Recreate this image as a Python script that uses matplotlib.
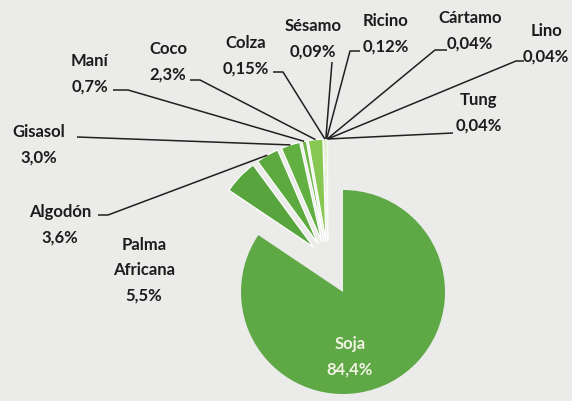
import matplotlib.pyplot as plt
import numpy as np

plt.rcParams["font.family"] = ["Lato", "DejaVu Sans"]

W, H = 572, 401

crops = ["Soja", "Palma\nAfricana", "Algodón", "Gisasol", "Maní", "Coco",
         "Colza", "Sésamo", "Ricino", "Cártamo", "Lino", "Tung"]
shares = [84.4, 5.5, 3.6, 3.0, 0.7, 2.3, 0.15, 0.09, 0.12, 0.04, 0.04, 0.04]
share_txt = ["84,4%", "5,5%", "3,6%", "3,0%", "0,7%", "2,3%",
             "0,15%", "0,09%", "0,12%", "0,04%", "0,04%", "0,04%"]

colors = ["#5ea845", "#58a53e", "#5caa3f", "#63b042", "#6cb746", "#88c852"] + ["#a6d870"] * 6

# label block centres (image px, y from top)
label_pos = {
    "Soja": (350, 357), "Palma\nAfricana": (144, 270), "Algodón": (60, 225),
    "Gisasol": (39, 145), "Maní": (90, 74), "Coco": (168, 62),
    "Colza": (246, 56), "Sésamo": (313, 39), "Ricino": (386, 34),
    "Cártamo": (470, 31), "Lino": (546, 44), "Tung": (479, 113),
}
# leader start points (image px), the line then runs to the slice
leaders = {
    "Algodón": [(98, 215), (108, 215)], "Gisasol": [(77, 137)],
    "Maní": [(113, 90), (128, 90)], "Coco": [(190, 80), (200, 80)],
    "Colza": [(273, 72), (283, 72)], "Sésamo": [(332, 62)],
    "Ricino": [(360, 51), (350, 51)], "Cártamo": [(447, 50), (435, 50)],
    "Lino": [(524, 61), (516, 61)], "Tung": [(453, 133)],
}

fig = plt.figure(figsize=(W / 100, H / 100), dpi=100)
fig.patch.set_facecolor("#ebebe9")
ax = fig.add_axes([0, 0, 1, 1])

centre = (343, H - 292)
# big slice
big, _ = ax.pie(shares, colors=colors, startangle=90, counterclock=False,
                radius=102, center=centre)
for w in big[1:]:
    w.set_visible(False)

# small slices, pulled out as a group and spread a little
explode = [0] + [20] * (len(shares) - 1)
wedges, _ = ax.pie(shares, colors=colors, startangle=90, counterclock=False,
                   radius=102, center=(centre[0] - 15, centre[1] + 31),
                   explode=explode,
                   wedgeprops=dict(edgecolor="white", linewidth=0.9,
                                   joinstyle="round"))
wedges[0].set_visible(False)
for w in wedges[6:]:
    w.set_linewidth(0.3)

ax.set_xlim(0, W)
ax.set_ylim(0, H)
ax.set_aspect("auto")
ax.axis("off")

for i, name in enumerate(crops):
    x, y = label_pos[name]
    col = "#f2f2e4" if name == "Soja" else "#1c1c1c"
    ax.text(x, H - y, name + "\n" + share_txt[i], ha="center", va="center",
            fontsize=12, fontweight="bold", color=col, linespacing=1.7)

    if name in leaders:
        w = wedges[i]
        cx, cy = w.center
        th = np.deg2rad((w.theta1 + w.theta2) / 2)
        tip = (cx + w.r * np.cos(th), cy + w.r * np.sin(th))
        pts = [(px, H - py) for px, py in leaders[name]] + [tip]
        xs, ys = zip(*pts)
        ax.plot(xs, ys, color="#202020", lw=1.1, solid_capstyle="butt")

fig.savefig("out.png", dpi=100, facecolor=fig.get_facecolor())
